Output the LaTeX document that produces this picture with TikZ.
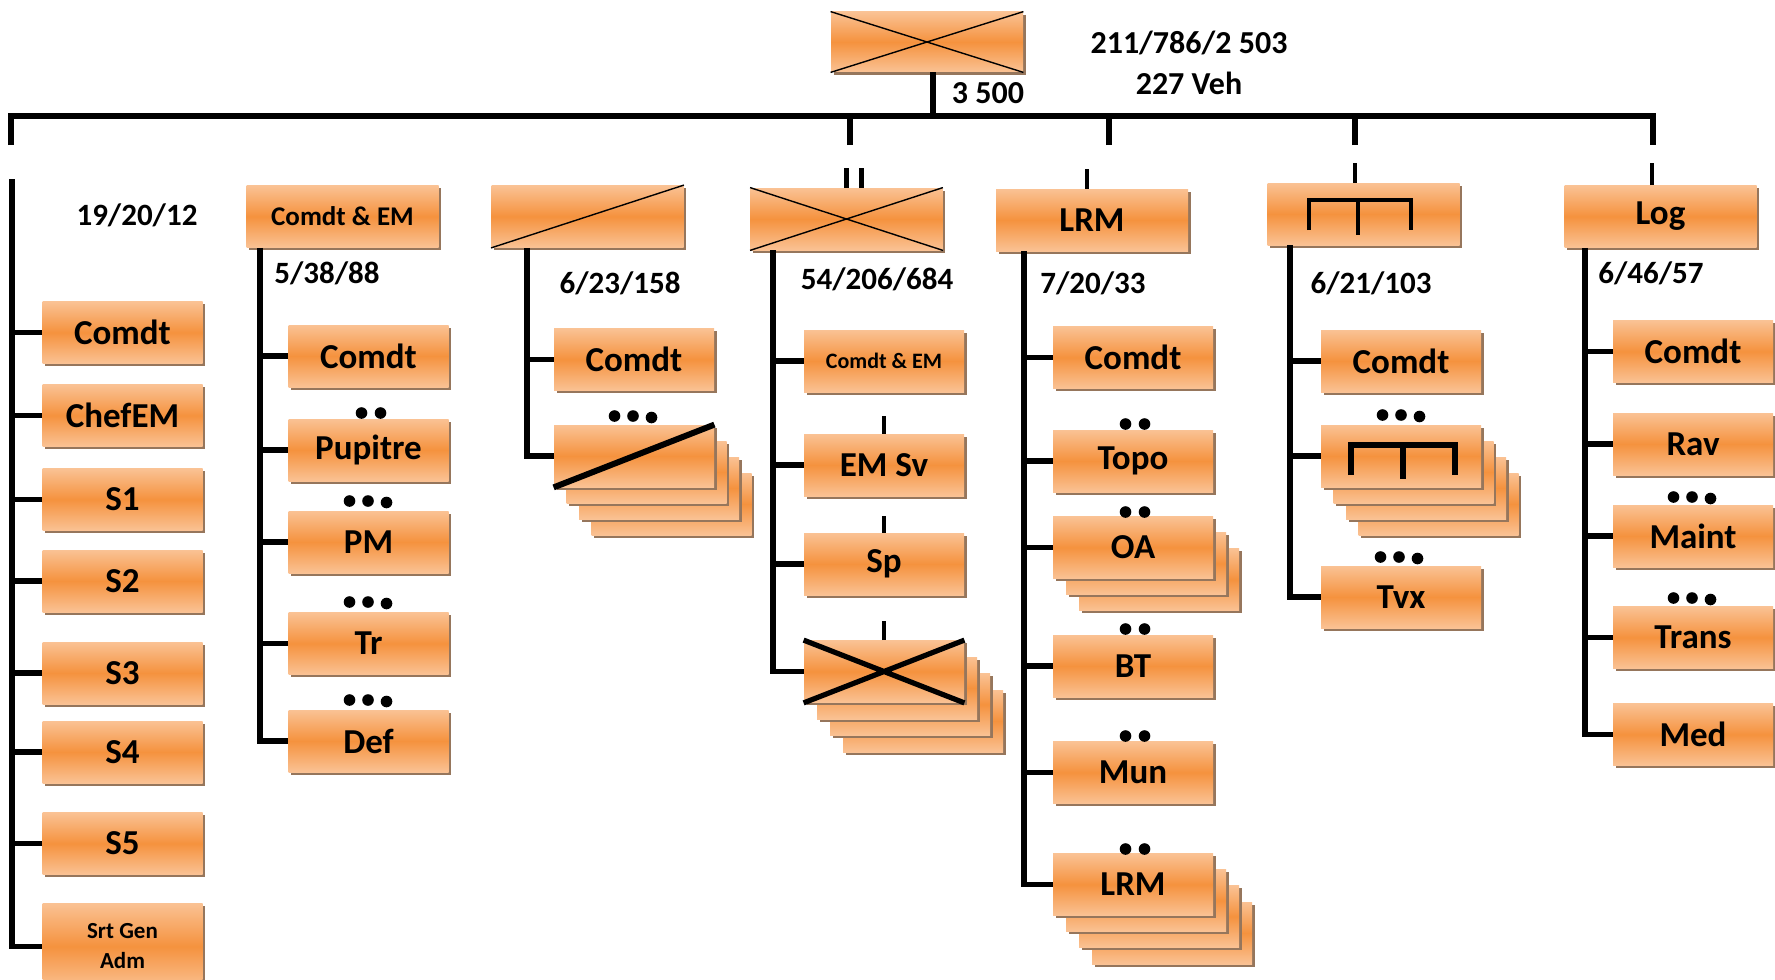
\documentclass[tikz,border=0pt]{standalone}
\usepackage{fontspec}
\setmainfont{Carlito}
\usetikzlibrary{shadows}
\definecolor{orL}{RGB}{250,194,148}
\definecolor{orM}{RGB}{245,146,62}
\definecolor{shc}{RGB}{150,118,92}
\tikzset{
  box/.style={minimum width=80pt, minimum height=31pt, inner sep=0pt,
    top color=orL, bottom color=orL, middle color=orM,
    drop shadow={shadow xshift=1.3pt, shadow yshift=-1.3pt, fill=shc, opacity=1},
    font=\bfseries\fontsize{17.5}{20}\selectfont},
  hdr/.style={box, minimum width=96pt},
  ln/.style={line width=2.6pt},
  tk/.style={line width=2.3pt},
  thinl/.style={line width=0.7pt},
  num/.style={font=\bfseries\fontsize{15.5}{18}\selectfont, inner sep=0pt},
  bignum/.style={font=\bfseries\fontsize{16}{19}\selectfont, inner sep=0pt},
}
\newcommand\twod[2]{\fill ({#1-9.5},#2) circle[radius=2.9pt] ({#1+9.5},#2) circle[radius=2.9pt];}
\newcommand\threed[2]{\fill ({#1-18.5},#2) circle[radius=2.9pt] (#1,#2) circle[radius=2.9pt] ({#1+18.5},{#2+1.5}) circle[radius=2.9pt];}
\begin{document}
\begin{tikzpicture}[x=0.5pt,y=-0.5pt]
\useasboundingbox (0,0) rectangle (1775,979);

% ---------- top ----------
\node[hdr, minimum height=30pt] (top) at (927,42) {};
\draw[thinl] (top.north west) -- (top.south east) (top.south west) -- (top.north east);
\node[bignum] (n0) at (988,93) {3 500};
\node[bignum] (n0a) at (1189,43) {211/786/2 503};
\node[bignum] (n0b) at (1189,83) {227 Veh};

\coordinate (barL) at (11,116);
\coordinate (barR) at (1653,116);
\coordinate (dL) at (11,145);
\coordinate (dR) at (1653,145);
\coordinate (d4) at (850,145);
\coordinate (d5) at (1109,145);
\coordinate (d6) at (1355,145);
\draw[ln] ([xshift=3pt]top.south) -- ([xshift=3pt]top.south |- barL);
\draw[ln] (dL) -- (barL) -- (barR) -- (dR);
\draw[ln] (d4) -- (d4 |- barL);
\draw[ln] (d5) -- (d5 |- barL);
\draw[ln] (d6) -- (d6 |- barL);

% ---------- column 1 ----------
\node[num] (n1) at (137,215) {19/20/12};
\node[box] (c1a) at (122.5,332.5) {Comdt};
\node[box] (c1b) at (122.5,415.5) {ChefEM};
\node[box] (c1c) at (122.5,499.5) {S1};
\node[box] (c1d) at (122.5,581) {S2};
\node[box] (c1e) at (122.5,673) {S3};
\node[box] (c1f) at (122.5,752) {S4};
\node[box] (c1g) at (122.5,843.5) {S5};
\node[box, minimum height=43.5pt, align=center, font=\bfseries\fontsize{11.5}{15}\selectfont] (c1h) at (122.5,946.5) {Srt Gen\\Adm};
\coordinate (v1) at (12,179);
\draw[ln] (v1) |- (c1h.west);
\foreach \b in {c1a,c1b,c1c,c1d,c1e,c1f,c1g} \draw[ln] (\b.west) -- (\b.west -| v1);

% ---------- column 2 ----------
\node[hdr, font=\bfseries\fontsize{13.5}{16}\selectfont] (h2) at (342.5,216.5) {Comdt \& EM};
\node[num] (n2) at (327,273) {5/38/88};
\node[box] (c2a) at (368.5,356) {Comdt};
\node[box] (c2b) at (368.5,450) {Pupitre};
\node[box] (c2c) at (368.5,542) {PM};
\node[box] (c2d) at (368.5,643.5) {Tr};
\node[box] (c2e) at (368.5,741) {Def};
\coordinate (v2) at (260,0);
\draw[ln] (h2.south -| v2) |- (c2e.west);
\foreach \b in {c2a,c2b,c2c,c2d} \draw[ln] (\b.west) -- (\b.west -| v2);
\twod{371}{413}
\threed{368}{501}
\threed{368}{602}
\threed{368}{700}

% ---------- column 3 ----------
\node[hdr] (h3) at (587.5,216.5) {};
\draw[thinl] (h3.south west) -- (h3.north east);
\node[num] (n3) at (620,283) {6/23/158};
\node[box] (c3a) at (634,359.5) {Comdt};
\node[box] (c3b3) at (671.5,504) {};
\node[box] (c3b2) at (659,488) {};
\node[box] (c3b1) at (646.5,472) {};
\node[box] (c3b) at (634,456) {};
\draw[line width=3pt] (c3b.south west) -- (c3b.north east);
\coordinate (v3) at (527,0);
\draw[ln] (h3.south -| v3) |- (c3b.west);
\draw[ln] (c3a.west) -- (c3a.west -| v3);
\threed{633}{416}

% ---------- column 4 ----------
\node[hdr] (h4) at (846.5,219) {};
\draw[thinl] (h4.north west) -- (h4.south east) (h4.south west) -- (h4.north east);
\draw[tk] (h4.north) -- ++(0,-20);
\draw[tk] ([xshift=7.5pt]h4.north) -- ++(0,-20);
\node[num] (n4) at (877,279) {54/206/684};
\node[box, font=\bfseries\fontsize{11}{13}\selectfont] (c4a) at (884,361) {Comdt \& EM};
\node[box] (c4b) at (884,465) {EM Sv};
\node[box] (c4c) at (884,564) {Sp};
\node[box] (c4d3) at (923,721) {};
\node[box] (c4d2) at (910,704.5) {};
\node[box] (c4d1) at (897,688) {};
\node[box] (c4d) at (884,671.5) {};
\draw[line width=2.6pt] (c4d.north west) -- (c4d.south east) (c4d.south west) -- (c4d.north east);
\draw[tk] (c4b.north) -- ++(0,-18);
\draw[tk] (c4c.north) -- ++(0,-17);
\draw[tk] (c4d.north) -- ++(0,-19);
\coordinate (v4) at (773,0);
\draw[ln] (h4.south -| v4) |- (c4d.west);
\foreach \b in {c4a,c4b,c4c} \draw[ln] (\b.west) -- (\b.west -| v4);

% ---------- column 5 ----------
\node[hdr] (h5) at (1092,220) {LRM};
\draw[tk] ([xshift=-2.5pt]h5.north) -- ++(0,-20);
\node[num] (n5) at (1093,283) {7/20/33};
\node[box] (c5a) at (1133,357.5) {Comdt};
\node[box] (c5b) at (1133,461) {Topo};
\node[box] (c5c2) at (1159,579.5) {};
\node[box] (c5c1) at (1146,563.5) {};
\node[box] (c5c) at (1133,547.5) {OA};
\node[box] (c5d) at (1133,666) {BT};
\node[box] (c5e) at (1133,772.5) {Mun};
\node[box] (c5f3) at (1172,933) {};
\node[box] (c5f2) at (1159,916.5) {};
\node[box] (c5f1) at (1146,900.5) {};
\node[box] (c5f) at (1133,884.5) {LRM};
\coordinate (v5) at (1024,0);
\draw[ln] (h5.south -| v5) |- (c5f.west);
\foreach \b in {c5a,c5b,c5c,c5d,c5e} \draw[ln] (\b.west) -- (\b.west -| v5);
\twod{1135}{424}
\twod{1135}{512}
\twod{1135}{629}
\twod{1135}{736}
\twod{1135}{849}

% ---------- column 6 ----------
\node[hdr] (h6) at (1363.5,214) {};
\begin{scope}[shift={(h6.center)}]
  \draw[line width=2.1pt] (-54.5,16) -- (-54.5,-14) -- (47.5,-14) -- (47.5,16);
  \draw[line width=2.1pt] (-5.5,-14) -- (-5.5,21);
\end{scope}
\draw[tk] ([xshift=-4.25pt]h6.north) -- ++(0,-20);
\node[num] (n6) at (1371,283) {6/21/103};
\node[box] (c6a) at (1401,361) {Comdt};
\node[box] (c6b3) at (1438.5,504) {};
\node[box] (c6b2) at (1426,488) {};
\node[box] (c6b1) at (1413.5,472) {};
\node[box] (c6b) at (1401,456) {};
\begin{scope}[shift={(c6b.center)}]
  \draw[line width=3pt] (-50,19) -- (-50,-11) -- (54,-11) -- (54,19);
  \draw[line width=3pt] (2,-11) -- (2,23);
\end{scope}
\node[box] (c6c) at (1401,597) {Tvx};
\coordinate (v6) at (1290,0);
\draw[ln] (h6.south -| v6) |- (c6c.west);
\foreach \b in {c6a,c6b} \draw[ln] (\b.west) -- (\b.west -| v6);
\threed{1401}{415}
\threed{1399}{557}

% ---------- column 7 ----------
\node[hdr] (h7) at (1660.5,216.5) {Log};
\draw[tk] ([xshift=-4.25pt]h7.north) -- ++(0,-22);
\node[num] (n7) at (1651,273) {6/46/57};
\node[box] (c7a) at (1693,351.5) {Comdt};
\node[box] (c7b) at (1693,444) {Rav};
\node[box] (c7c) at (1693,536) {Maint};
\node[box] (c7d) at (1693,637.5) {Trans};
\node[box] (c7e) at (1693,734.5) {Med};
\coordinate (v7) at (1585,0);
\draw[ln] (h7.south -| v7) |- (c7e.west);
\foreach \b in {c7a,c7b,c7c,c7d} \draw[ln] (\b.west) -- (\b.west -| v7);
\threed{1692}{497}
\threed{1692}{598}
\end{tikzpicture}
\end{document}
